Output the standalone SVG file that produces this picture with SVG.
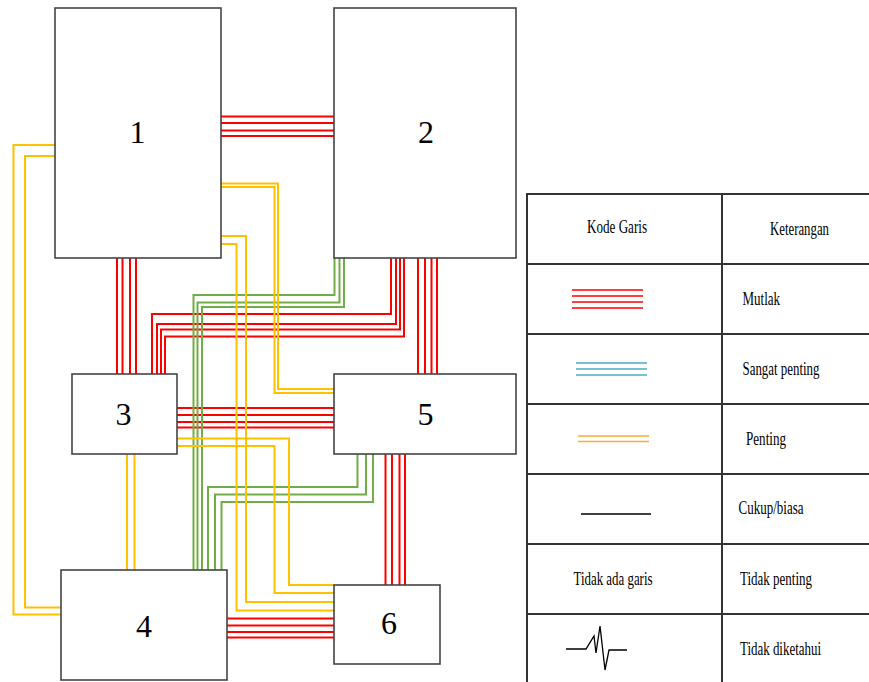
<svg xmlns="http://www.w3.org/2000/svg" width="869" height="682" viewBox="0 0 869 682">
<style>
.box{fill:#fff;stroke:#444;stroke-width:1.6}
.num{font-family:"Liberation Serif","Times New Roman",serif;font-size:32px;fill:#000;text-anchor:middle}
.lt{font-family:"Liberation Serif","Times New Roman",serif;font-size:18px;fill:#000}
.r{fill:none;stroke:#ff0000;stroke-width:2}
.y{fill:none;stroke:#ffc000;stroke-width:2}
.g{fill:none;stroke:#70ad47;stroke-width:2}
.tl{fill:none;stroke:#333;stroke-width:2}
</style>
<rect width="869" height="682" fill="#fff"/>
<g id="connectors">
  <!-- 1-2 red -->
  <path class="r" d="M221 116.5H334M221 123H334M221 130.5H334M221 136H334"/>
  <!-- 1-3 red -->
  <path class="r" d="M117 258V374M122.5 258V374M130 258V374M136 258V374"/>
  <!-- 2-3 red -->
  <polyline class="r" points="152,374 152,314 391,314 391,258"/>
  <polyline class="r" points="157,374 157,324 396,324 396,258"/>
  <polyline class="r" points="161,374 161,329.5 400,329.5 400,258"/>
  <polyline class="r" points="165,374 165,336.5 404,336.5 404,258"/>
  <!-- 2-5 red -->
  <path class="r" d="M418 258V374M425 258V374M431.5 258V374M437 258V374"/>
  <!-- 3-5 red -->
  <path class="r" d="M177 408H334M177 415H334M177 422H334M177 427.5H334"/>
  <!-- 5-6 red -->
  <path class="r" d="M385.5 454V585M392 454V585M399.5 454V585M405 454V585"/>
  <!-- 4-6 red -->
  <path class="r" d="M225 618.5H334M225 625.5H334M225 632H334M225 637.5H334"/>
  <!-- 2-4 green -->
  <polyline class="g" points="334.5,258 334.5,295 193.5,295 193.5,570"/>
  <polyline class="g" points="339.5,258 339.5,302.5 197.5,302.5 197.5,570"/>
  <polyline class="g" points="344,258 344,307 202,307 202,570"/>
  <!-- 5-4 green -->
  <polyline class="g" points="357.5,454 357.5,487 208,487 208,570"/>
  <polyline class="g" points="366,454 366,494.5 215,494.5 215,570"/>
  <polyline class="g" points="373,454 373,502 221.5,502 221.5,570"/>
  <!-- 1-4 yellow -->
  <polyline class="y" points="55,145 13.5,145 13.5,614.5 61,614.5"/>
  <polyline class="y" points="55,156 25,156 25,607.5 61,607.5"/>
  <!-- 1-5 yellow -->
  <polyline class="y" points="221,183.5 278,183.5 278,389 334,389"/>
  <polyline class="y" points="221,187 274.5,187 274.5,393 334,393"/>
  <!-- 1-6 yellow -->
  <polyline class="y" points="221,236 246,236 246,602 334,602"/>
  <polyline class="y" points="221,244 236.5,244 236.5,610.5 334,610.5"/>
  <!-- 3-6 yellow -->
  <polyline class="y" points="177,438.5 289,438.5 289,585 334,585"/>
  <polyline class="y" points="176,446 274.5,446 274.5,593 334,593"/>
  <!-- 3-4 yellow -->
  <path class="y" d="M127 454V570M134.5 454V570"/>
</g>
<g id="node1"><rect class="box" x="55" y="8" width="166" height="250"/><text class="num" x="137.5" y="142.5">1</text></g>
<g id="node2"><rect class="box" x="334" y="8" width="182" height="250"/><text class="num" x="426" y="143">2</text></g>
<g id="node3"><rect class="box" x="72" y="374" width="105" height="80"/><text class="num" x="123.5" y="425">3</text></g>
<g id="node5"><rect class="box" x="334" y="374" width="182" height="80"/><text class="num" x="425.5" y="425">5</text></g>
<g id="node4"><rect class="box" x="61" y="570" width="166" height="110"/><text class="num" x="144" y="637">4</text></g>
<g id="node6"><rect class="box" x="334" y="585" width="106" height="79"/><text class="num" x="389" y="634">6</text></g>
<g id="legend">
  <rect class="tl" x="527" y="194" width="344" height="490" fill="#fff"/>
  <path class="tl" d="M722 194V684M527 264H869M527 334H869M527 404H869M527 474H869M527 544H869M527 614H869"/>
  <text class="lt" x="587" y="233" textLength="60" lengthAdjust="spacingAndGlyphs">Kode Garis</text>
  <text class="lt" x="770" y="235" textLength="59" lengthAdjust="spacingAndGlyphs">Keterangan</text>
  <path fill="none" stroke="#ff0000" stroke-width="1.5" d="M572 290H643M572 296H643M572 302H643M572 308H643"/>
  <text class="lt" x="742.5" y="305" textLength="37.5" lengthAdjust="spacingAndGlyphs">Mutlak</text>
  <path fill="none" stroke="#4bacc6" stroke-width="1.5" d="M576 363H647M576 369H647M576 375H647"/>
  <text class="lt" x="742.5" y="375" textLength="77" lengthAdjust="spacingAndGlyphs">Sangat penting</text>
  <path fill="none" stroke="#ffaa33" stroke-width="1.5" d="M578 436H649M578 441.5H649"/>
  <text class="lt" x="746" y="445" textLength="40" lengthAdjust="spacingAndGlyphs">Penting</text>
  <path fill="none" stroke="#000" stroke-width="1.5" d="M581 514H651"/>
  <text class="lt" x="738.5" y="514" textLength="65" lengthAdjust="spacingAndGlyphs">Cukup/biasa</text>
  <text class="lt" x="573.5" y="585" textLength="79" lengthAdjust="spacingAndGlyphs">Tidak ada garis</text>
  <text class="lt" x="740" y="585" textLength="72" lengthAdjust="spacingAndGlyphs">Tidak penting</text>
  <polyline fill="none" stroke="#000" stroke-width="1.3" points="566,649 586,649 594,636 596,653 600,626 605,670 609,650 627,650"/>
  <text class="lt" x="740" y="655" textLength="81" lengthAdjust="spacingAndGlyphs">Tidak diketahui</text>
</g>
</svg>
